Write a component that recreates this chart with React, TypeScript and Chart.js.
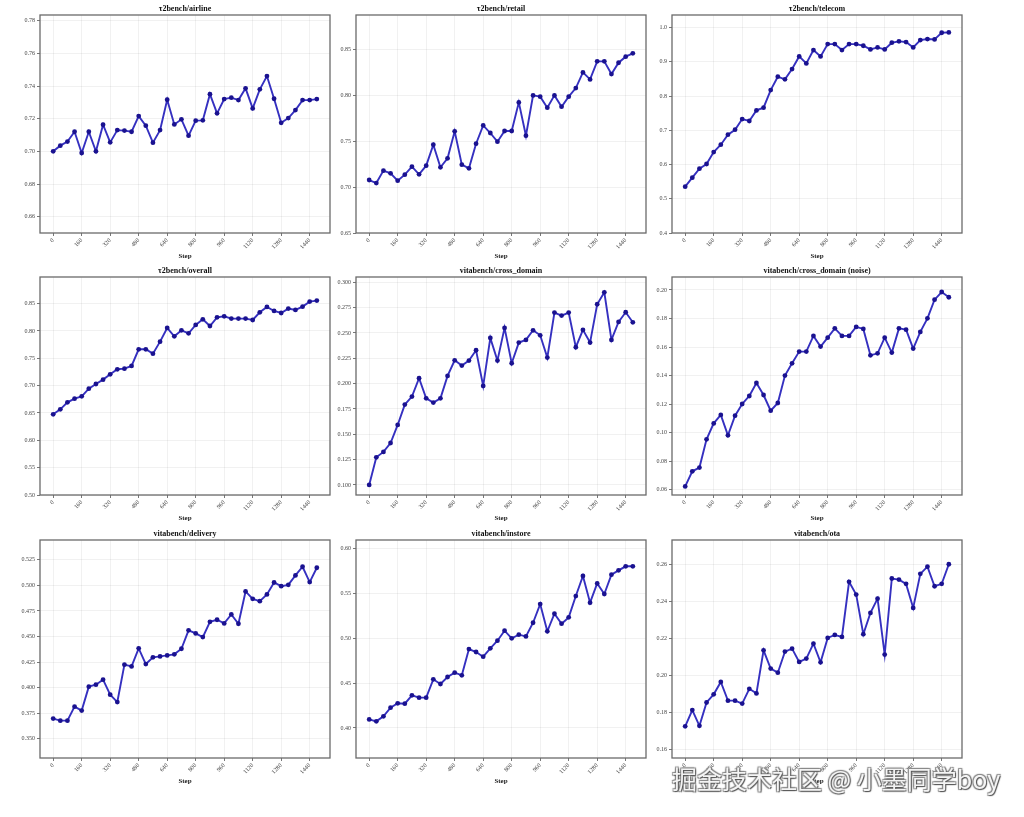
import React, { useEffect, useRef } from "react";
import { Chart, registerables } from "chart.js";

Chart.register(...registerables);

// ---------------- DATA ----------------
const STEPS = [0, 40, 80, 120, 160, 200, 240, 280, 320, 360, 400, 440, 480, 520, 560, 600, 640, 680, 720, 760, 800, 840, 880, 920, 960, 1000, 1040, 1080, 1120, 1160, 1200, 1240, 1280, 1320, 1360, 1400, 1440, 1480];
const X_TICKS = [0, 160, 320, 480, 640, 800, 960, 1120, 1280, 1440];

const AIRLINE = [0.700, 0.7035, 0.706, 0.712, 0.699, 0.712, 0.700, 0.7163, 0.7055, 0.713, 0.7127, 0.712, 0.7216, 0.7157, 0.7053, 0.713, 0.7316, 0.7165, 0.7196, 0.7096, 0.7188, 0.719, 0.735, 0.7233, 0.732, 0.7329, 0.7314, 0.7386, 0.7263, 0.738, 0.7461, 0.7322, 0.7175, 0.7204, 0.7253, 0.7314, 0.7314, 0.732];
const RETAIL = [0.7076, 0.7043, 0.7178, 0.7149, 0.7069, 0.7134, 0.7221, 0.7138, 0.7232, 0.746, 0.7214, 0.7312, 0.7605, 0.7243, 0.7203, 0.7471, 0.767, 0.7587, 0.7493, 0.7609, 0.7609, 0.792, 0.7558, 0.7996, 0.7982, 0.7862, 0.7996, 0.7873, 0.7982, 0.8076, 0.8246, 0.817, 0.8366, 0.8366, 0.8228, 0.8351, 0.8417, 0.8453];
const TELECOM = [0.5353, 0.5616, 0.588, 0.6016, 0.6366, 0.658, 0.6872, 0.7018, 0.733, 0.7272, 0.7583, 0.7661, 0.8177, 0.8567, 0.8489, 0.879, 0.916, 0.8956, 0.9346, 0.916, 0.952, 0.952, 0.9346, 0.952, 0.952, 0.9472, 0.9365, 0.9423, 0.9365, 0.956, 0.96, 0.958, 0.9423, 0.9638, 0.9667, 0.9657, 0.9852, 0.9862];
const OVERALL = [0.6476, 0.6567, 0.6695, 0.6762, 0.6805, 0.6945, 0.703, 0.711, 0.7207, 0.7299, 0.7311, 0.736, 0.7665, 0.7665, 0.7585, 0.7805, 0.8055, 0.7902, 0.8012, 0.7957, 0.811, 0.8213, 0.8091, 0.825, 0.8268, 0.8226, 0.8226, 0.8226, 0.8201, 0.8341, 0.8439, 0.8366, 0.8329, 0.8409, 0.8384, 0.8445, 0.8537, 0.8555];
const CROSS_DOMAIN = [0.100, 0.1273, 0.1326, 0.1414, 0.1592, 0.1793, 0.1872, 0.2053, 0.1855, 0.1813, 0.1855, 0.2076, 0.223, 0.2178, 0.2227, 0.2329, 0.1977, 0.2451, 0.2227, 0.255, 0.2201, 0.2405, 0.2431, 0.2526, 0.2477, 0.2257, 0.2701, 0.2671, 0.2701, 0.2359, 0.253, 0.2405, 0.2783, 0.2901, 0.2431, 0.2609, 0.2704, 0.2605];
const CROSS_DOMAIN_NOISE = [0.0623, 0.0729, 0.0755, 0.0953, 0.1065, 0.1124, 0.0981, 0.1119, 0.1201, 0.1257, 0.1348, 0.1264, 0.1154, 0.1208, 0.14, 0.1486, 0.1568, 0.1568, 0.1678, 0.1603, 0.1666, 0.1731, 0.1678, 0.1678, 0.1741, 0.1727, 0.1542, 0.1556, 0.1666, 0.1561, 0.1731, 0.1722, 0.1589, 0.1706, 0.1801, 0.1932, 0.1986, 0.1949];
const DELIVERY = [0.3696, 0.3676, 0.3676, 0.3813, 0.3774, 0.4009, 0.4028, 0.4077, 0.393, 0.3858, 0.4224, 0.4207, 0.4384, 0.423, 0.4296, 0.4305, 0.4315, 0.4325, 0.438, 0.456, 0.453, 0.4494, 0.4644, 0.4664, 0.4628, 0.4716, 0.4625, 0.4941, 0.4869, 0.4846, 0.4912, 0.5029, 0.4993, 0.5006, 0.5098, 0.5183, 0.5033, 0.5173];
const INSTORE = [0.4096, 0.4074, 0.413, 0.4226, 0.4275, 0.4271, 0.4364, 0.4338, 0.4338, 0.4542, 0.449, 0.4568, 0.4616, 0.4586, 0.4879, 0.4846, 0.4794, 0.4887, 0.4972, 0.5083, 0.4998, 0.5039, 0.502, 0.5172, 0.538, 0.5076, 0.5272, 0.5161, 0.5232, 0.5469, 0.5692, 0.5395, 0.561, 0.5492, 0.5707, 0.5755, 0.58, 0.58];
const OTA = [0.1724, 0.1812, 0.1727, 0.1853, 0.1897, 0.1964, 0.1863, 0.1863, 0.1847, 0.1927, 0.1902, 0.2135, 0.2036, 0.2014, 0.2128, 0.2144, 0.2072, 0.209, 0.2171, 0.207, 0.2202, 0.2218, 0.2207, 0.2505, 0.2436, 0.2222, 0.2337, 0.2414, 0.2112, 0.2523, 0.2517, 0.2494, 0.2364, 0.2548, 0.2587, 0.2481, 0.2494, 0.26];

const AIRLINE_Y_TICKS = ["0.66", "0.68", "0.70", "0.72", "0.74", "0.76", "0.78"];
const RETAIL_Y_TICKS = ["0.65", "0.70", "0.75", "0.80", "0.85"];
const TELECOM_Y_TICKS = ["0.4", "0.5", "0.6", "0.7", "0.8", "0.9", "1.0"];
const OVERALL_Y_TICKS = ["0.50", "0.55", "0.60", "0.65", "0.70", "0.75", "0.80", "0.85"];
const CROSS_DOMAIN_Y_TICKS = ["0.100", "0.125", "0.150", "0.175", "0.200", "0.225", "0.250", "0.275", "0.300"];
const NOISE_Y_TICKS = ["0.06", "0.08", "0.10", "0.12", "0.14", "0.16", "0.18", "0.20"];
const DELIVERY_Y_TICKS = ["0.350", "0.375", "0.400", "0.425", "0.450", "0.475", "0.500", "0.525"];
const INSTORE_Y_TICKS = ["0.40", "0.45", "0.50", "0.55", "0.60"];
const OTA_Y_TICKS = ["0.16", "0.18", "0.20", "0.22", "0.24", "0.26"];

const TITLES = [
  "τ2bench/airline",
  "τ2bench/retail",
  "τ2bench/telecom",
  "τ2bench/overall",
  "vitabench/cross_domain",
  "vitabench/cross_domain (noise)",
  "vitabench/delivery",
  "vitabench/instore",
  "vitabench/ota",
];
const SERIES = [AIRLINE, RETAIL, TELECOM, OVERALL, CROSS_DOMAIN, CROSS_DOMAIN_NOISE, DELIVERY, INSTORE, OTA];
const Y_TICKS = [AIRLINE_Y_TICKS, RETAIL_Y_TICKS, TELECOM_Y_TICKS, OVERALL_Y_TICKS, CROSS_DOMAIN_Y_TICKS, NOISE_Y_TICKS, DELIVERY_Y_TICKS, INSTORE_Y_TICKS, OTA_Y_TICKS];
const Y_MIN = [0.65, 0.65, 0.4, 0.5, 0.0901, 0.0563, 0.331, 0.3666, 0.1553];
const Y_MAX = [0.7835, 0.887, 1.037, 0.8987, 0.3052, 0.2091, 0.5445, 0.6093, 0.2731];
const X_MIN = -74;
const X_MAX = 1554;

// ---------------- LAYOUT ----------------
const PLOT_LEFTS = [40, 356, 672];
const PLOT_TOPS = [15, 277, 540];
const PLOT_W = 290;
const PLOT_H = 218;
const Y_AXIS_W = 34;
const X_AXIS_H = 30;
const TOP_PAD = 16;
const RIGHT_PAD = 8;
const CANVAS_W = Y_AXIS_W + PLOT_W + RIGHT_PAD;
const CANVAS_H = TOP_PAD + PLOT_H + X_AXIS_H;

const SERIF = "'Liberation Serif', 'DejaVu Serif', serif";

const decorPlugin = {
  id: "panelDecor",
  afterDraw(chart: any, _args: any, opts: any) {
    const { ctx, chartArea } = chart;
    const { left, top, right, bottom } = chartArea;
    ctx.save();
    ctx.strokeStyle = "#6a6a6a";
    ctx.lineWidth = 1.3;
    ctx.strokeRect(left, top, right - left, bottom - top);
    ctx.font = `bold 8px ${SERIF}`;
    ctx.fillStyle = "#111";
    ctx.textAlign = "center";
    ctx.textBaseline = "middle";
    ctx.fillText(opts.title || "", (left + right) / 2, top - 6);
    ctx.restore();
  },
};

function Panel({ idx }: { idx: number }) {
  const ref = useRef<HTMLCanvasElement | null>(null);
  useEffect(() => {
    if (!ref.current) return;
    const values = SERIES[idx];
    const yLabels = Y_TICKS[idx];
    const chart = new Chart(ref.current, {
      type: "line",
      data: {
        datasets: [
          {
            data: STEPS.map((s, i) => ({ x: s, y: values[i] })),
            borderColor: "#3530c0",
            borderWidth: 1.9,
            pointRadius: 2.4,
            pointBackgroundColor: "#1a1290",
            pointBorderColor: "#1a1290",
            pointBorderWidth: 0,
            tension: 0,
          },
        ],
      },
      options: {
        responsive: false,
        animation: false,
        devicePixelRatio: 1,
        layout: { padding: { top: TOP_PAD, right: RIGHT_PAD, left: 0, bottom: 0 } },
        plugins: {
          legend: { display: false },
          tooltip: { enabled: false },
          title: { display: false },
          panelDecor: { title: TITLES[idx] },
        } as any,
        scales: {
          x: {
            type: "linear",
            min: X_MIN,
            max: X_MAX,
            afterBuildTicks: (s: any) => {
              s.ticks = X_TICKS.map((v) => ({ value: v }));
            },
            afterFit: (s: any) => {
              s.height = X_AXIS_H;
            },
            border: { display: false },
            grid: {
              color: "rgba(0,0,0,0.07)",
              lineWidth: 0.8,
              drawTicks: true,
              tickLength: 3,
              tickColor: "#555",
            },
            ticks: {
              autoSkip: false,
              minRotation: 45,
              maxRotation: 45,
              padding: 1,
              color: "#444",
              font: { family: SERIF, size: 6 },
              callback: (v: any) => String(v),
            },
            title: {
              display: true,
              text: "Step",
              color: "#222",
              font: { family: SERIF, size: 7, weight: "bold" },
              padding: { top: 0, bottom: 3 },
            },
          },
          y: {
            type: "linear",
            min: Y_MIN[idx],
            max: Y_MAX[idx],
            afterBuildTicks: (s: any) => {
              s.ticks = yLabels.map((t) => ({ value: parseFloat(t) }));
            },
            afterFit: (s: any) => {
              s.width = Y_AXIS_W;
            },
            border: { display: false },
            grid: {
              color: "rgba(0,0,0,0.07)",
              lineWidth: 0.8,
              drawTicks: true,
              tickLength: 3,
              tickColor: "#555",
            },
            ticks: {
              padding: 2,
              color: "#444",
              font: { family: SERIF, size: 6 },
              callback: (_v: any, i: number) => yLabels[i],
            },
          },
        },
      },
      plugins: [decorPlugin],
    });
    return () => chart.destroy();
  }, [idx]);

  const col = idx % 3;
  const row = Math.floor(idx / 3);
  return (
    <div
      style={{
        position: "absolute",
        left: PLOT_LEFTS[col] - Y_AXIS_W,
        top: PLOT_TOPS[row] - TOP_PAD,
        width: CANVAS_W,
        height: CANVAS_H,
      }}
    >
      <canvas ref={ref} width={CANVAS_W} height={CANVAS_H} style={{ width: CANVAS_W, height: CANVAS_H, display: "block" }} />
    </div>
  );
}

export default function App() {
  return (
    <div
      style={{
        position: "fixed",
        left: 0,
        top: 0,
        width: 1024,
        height: 817,
        background: "#fff",
        overflow: "hidden",
      }}
    >
      {TITLES.map((_, i) => (
        <Panel key={i} idx={i} />
      ))}
      <div
        style={{
          position: "absolute",
          left: 672,
          top: 766,
          fontFamily: "'Noto Sans CJK SC', sans-serif",
          fontSize: 25,
          lineHeight: 1,
          color: "#f4f4f4",
          whiteSpace: "nowrap",
          textShadow: "1px 1px 1px #555, -1px -1px 1px #888, 1px -1px 1px #888, -1px 1px 1px #888",
        }}
      >
        掘金技术社区 @ 小墨同学boy
      </div>
    </div>
  );
}
